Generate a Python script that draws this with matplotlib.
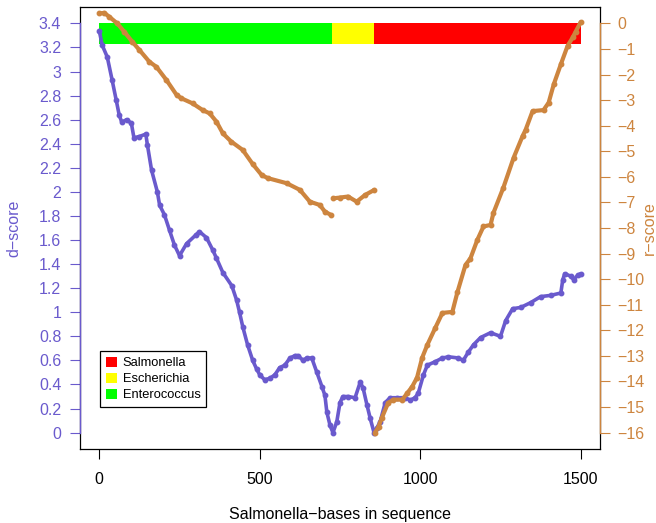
import matplotlib
matplotlib.use("Agg")
import matplotlib.pyplot as plt
from matplotlib.patches import Patch

plt.rcParams["font.family"] = ["Liberation Sans", "DejaVu Sans"]

D_COL = "#6A5ACD"   # slateblue
R_COL = "#CD853F"   # peru

# d-score along the Salmonella sequence
d_pos = [0, 9, 25, 40, 53, 62, 70, 85, 100, 108, 125, 145, 150, 163, 181, 188,
         203, 219, 234, 250, 272, 300, 312, 334, 353, 365, 385, 413, 428, 437,
         447, 462, 478, 490, 500, 515, 531, 547, 562, 578, 594, 610, 619, 635,
         646, 662, 678, 694, 703, 709, 719, 728, 740, 750, 759, 775, 797, 813,
         822, 834, 844, 856, 865, 875, 891, 906, 927, 953, 969, 984, 994, 1010,
         1022, 1047, 1069, 1088, 1119, 1134, 1150, 1166, 1188, 1219, 1250, 1266,
         1288, 1313, 1344, 1375, 1406, 1438, 1444, 1450, 1469, 1478, 1491, 1500]
d_score = [3.34, 3.22, 3.12, 2.93, 2.76, 2.64, 2.58, 2.60, 2.57, 2.45, 2.46,
           2.48, 2.39, 2.18, 2.00, 1.89, 1.81, 1.68, 1.56, 1.47, 1.57, 1.64,
           1.67, 1.62, 1.52, 1.45, 1.33, 1.22, 1.10, 1.00, 0.88, 0.73, 0.60,
           0.53, 0.48, 0.44, 0.45, 0.48, 0.54, 0.56, 0.62, 0.64, 0.64, 0.60,
           0.62, 0.62, 0.50, 0.38, 0.31, 0.17, 0.06, 0.00, 0.09, 0.25, 0.30,
           0.30, 0.29, 0.42, 0.37, 0.23, 0.12, 0.00, 0.04, 0.09, 0.25, 0.29,
           0.29, 0.29, 0.27, 0.29, 0.33, 0.48, 0.56, 0.59, 0.62, 0.63, 0.62,
           0.60, 0.67, 0.73, 0.79, 0.83, 0.80, 0.93, 1.03, 1.04, 1.08, 1.13,
           1.14, 1.16, 1.27, 1.32, 1.30, 1.27, 1.31, 1.32]

# r-score, one run per matched genus
r_pos_ent = [0, 16, 31, 56, 78, 103, 125, 156, 178, 209, 241, 256, 291, 322,
             344, 365, 385, 411, 447, 478, 506, 525, 584, 625, 656, 687, 703, 722]
r_ent = [0.39, 0.41, 0.26, 0.0, -0.33, -0.72, -1.04, -1.5, -1.7, -2.21, -2.8,
         -2.93, -3.13, -3.39, -3.52, -3.84, -4.3, -4.62, -4.95, -5.5, -5.93,
         -6.05, -6.25, -6.51, -6.97, -7.1, -7.36, -7.49]
r_pos_esc = [729, 750, 775, 802, 828, 857]
r_esc = [-6.84, -6.81, -6.77, -6.97, -6.71, -6.51]
r_pos_sal = [859, 870, 880, 900, 916, 944, 960, 975, 990, 1006, 1022, 1047,
             1069, 1100, 1116, 1141, 1156, 1178, 1197, 1219, 1228, 1259, 1291,
             1319, 1328, 1350, 1384, 1400, 1416, 1438, 1459, 1475, 1484, 1500]
r_sal = [-16.0, -15.77, -15.43, -14.84, -14.71, -14.71, -14.45, -14.2, -13.85,
         -13.07, -12.57, -11.9, -11.32, -11.28, -10.5, -9.44, -9.2, -8.46,
         -7.94, -7.88, -7.41, -6.42, -5.25, -4.4, -4.17, -3.43, -3.39, -3.1,
         -2.38, -1.6, -0.88, -0.55, -0.33, 0.05]

# genus blocks along the sequence
genera = ["Enterococcus", "Escherichia", "Salmonella"]
block_start = [0, 724, 857]
block_len = [724, 133, 643]
block_col = ["#00FF00", "#FFFF00", "#FF0000"]

x_ticks = [0, 500, 1000, 1500]
d_ticks = [0, 0.2, 0.4, 0.6, 0.8, 1, 1.2, 1.4, 1.6, 1.8, 2, 2.2, 2.4, 2.6,
           2.8, 3, 3.2, 3.4]
r_ticks = list(range(-16, 1))

fig = plt.figure(figsize=(6.56, 5.23), dpi=100)
ax = fig.add_axes([80 / 656, 74 / 523, 520 / 656, 442 / 523])
ax2 = ax.twinx()

ax.barh(3.315, block_len, left=block_start, height=0.18, color=block_col,
        linewidth=0, zorder=1)
ax.plot(d_pos, d_score, color=D_COL, lw=2.6, marker="o", ms=3.2,
        solid_capstyle="round", solid_joinstyle="round", zorder=3)

for px, pr in [(r_pos_ent, r_ent), (r_pos_esc, r_esc), (r_pos_sal, r_sal)]:
    ax2.plot(px, pr, color=R_COL, lw=3.0, marker="o", ms=3.2,
             solid_capstyle="round", solid_joinstyle="round")

ax.set_xlim(-60, 1560)
ax.set_ylim(-0.136, 3.536)
ax2.set_ylim(-16.64, 0.64)

ax.set_xticks(x_ticks)
ax.set_xticklabels([str(v) for v in x_ticks])
ax.set_yticks(d_ticks)
ax.set_yticklabels([f"{v:g}" for v in d_ticks])
ax2.set_yticks(r_ticks)
ax2.set_yticklabels([f"{v:d}".replace("-", "\u2212") for v in r_ticks])

for s in ax.spines.values():
    s.set_color("black")
    s.set_linewidth(0.9)
ax2.spines["top"].set_visible(False)
ax2.spines["bottom"].set_visible(False)
ax2.spines["left"].set_bounds(-16, 0)
ax2.spines["left"].set_color(D_COL)
ax2.spines["left"].set_linewidth(1.0)
ax2.spines["right"].set_bounds(-16, 0)
ax2.spines["right"].set_color(R_COL)
ax2.spines["right"].set_linewidth(1.0)

ax.tick_params(axis="x", length=7, width=0.8, pad=9.5, labelsize=11.5,
               colors="black")
ax.tick_params(axis="y", length=7, width=0.8, pad=6.5, labelsize=11.5,
               colors=D_COL)
ax2.tick_params(axis="y", length=7, width=0.8, pad=5.5, labelsize=11.5,
                colors=R_COL)

fig.text(14 / 656, 1 - 228 / 523, "d\u2212score", rotation=90, ha="center",
         va="center", color=D_COL, fontsize=11.5)
fig.text(649 / 656, 1 - 228 / 523, "r\u2212score", rotation=90, ha="center",
         va="center", color=R_COL, fontsize=11.5)
fig.text(340 / 656, 1 - 515 / 523, "Salmonella\u2212bases in sequence",
         ha="center", va="center", color="black", fontsize=11.5)

handles = [Patch(facecolor=c, edgecolor="none") for c in block_col[::-1]]
leg = ax2.legend(handles, genera[::-1], loc="upper left",
                 bbox_to_anchor=((100 - 80) / 520, (449 - 351) / 442),
                 borderaxespad=0, fontsize=9.3, frameon=True, fancybox=False,
                 handlelength=0.85, handleheight=0.85, handletextpad=0.45,
                 labelspacing=0.25, borderpad=0.45)
leg.get_frame().set_edgecolor("black")
leg.get_frame().set_linewidth(0.9)
leg.get_frame().set_alpha(1)

fig.savefig("out.png", dpi=100)
